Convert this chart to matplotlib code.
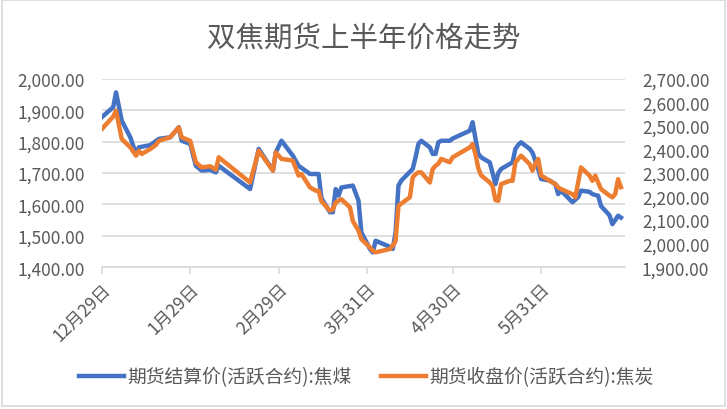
import pandas as pd
import numpy as np
import matplotlib
matplotlib.use('Agg')
import matplotlib.pyplot as plt
from matplotlib.patches import Rectangle

plt.rcParams['font.family'] = ['Noto Sans CJK SC', 'DejaVu Sans']

# 焦煤 期货结算价 (left axis)
coal_dates = ['2023-12-29', '2024-01-02', '2024-01-03', '2024-01-05', '2024-01-08', '2024-01-10',
              '2024-01-11', '2024-01-15', '2024-01-18', '2024-01-22', '2024-01-25', '2024-01-26',
              '2024-01-29', '2024-01-31', '2024-02-02', '2024-02-05', '2024-02-07', '2024-02-08',
              '2024-02-19', '2024-02-22', '2024-02-27', '2024-02-28', '2024-03-01', '2024-03-05',
              '2024-03-07', '2024-03-11', '2024-03-14', '2024-03-15', '2024-03-18', '2024-03-19',
              '2024-03-20', '2024-03-21', '2024-03-22', '2024-03-26', '2024-03-28', '2024-03-29',
              '2024-04-01', '2024-04-02', '2024-04-03', '2024-04-08', '2024-04-09', '2024-04-10',
              '2024-04-11', '2024-04-12', '2024-04-16', '2024-04-17', '2024-04-18', '2024-04-19',
              '2024-04-22', '2024-04-23', '2024-04-24', '2024-04-25', '2024-04-26', '2024-04-29',
              '2024-04-30', '2024-05-06', '2024-05-07', '2024-05-08', '2024-05-09', '2024-05-10',
              '2024-05-13', '2024-05-14', '2024-05-15', '2024-05-16', '2024-05-17', '2024-05-20',
              '2024-05-21', '2024-05-22', '2024-05-23', '2024-05-24', '2024-05-27', '2024-05-28',
              '2024-05-29', '2024-05-30', '2024-05-31', '2024-06-03', '2024-06-05', '2024-06-06',
              '2024-06-07', '2024-06-11', '2024-06-12', '2024-06-13', '2024-06-14', '2024-06-17',
              '2024-06-18', '2024-06-19', '2024-06-20', '2024-06-21', '2024-06-24', '2024-06-25',
              '2024-06-26', '2024-06-27', '2024-06-28']
coal_values = [1878, 1910, 1957, 1867, 1814, 1761,
               1782, 1789, 1809, 1814, 1846, 1803,
               1793, 1723, 1708, 1710, 1702, 1723,
               1649, 1777, 1708, 1766, 1803, 1755,
               1723, 1697, 1697, 1620, 1575, 1575,
               1649, 1628, 1654, 1660, 1612, 1511,
               1458, 1447, 1484, 1465, 1458, 1511,
               1660, 1676, 1713, 1750, 1793, 1803,
               1782, 1761, 1761, 1798, 1803, 1803,
               1810, 1835, 1862, 1810, 1761, 1750,
               1734, 1700, 1665, 1700, 1713, 1729,
               1734, 1777, 1790, 1798, 1777, 1765,
               1739, 1713, 1681, 1676, 1665, 1633,
               1644, 1607, 1615, 1623, 1644, 1640,
               1633, 1630, 1628, 1595, 1565, 1537,
               1550, 1564, 1558]

# 焦炭 期货收盘价 (right axis)
coke_dates = ['2023-12-29', '2024-01-02', '2024-01-03', '2024-01-05', '2024-01-08', '2024-01-10',
              '2024-01-11', '2024-01-12', '2024-01-15', '2024-01-17', '2024-01-18', '2024-01-22',
              '2024-01-25', '2024-01-26', '2024-01-29', '2024-01-31', '2024-02-02', '2024-02-05',
              '2024-02-07', '2024-02-08', '2024-02-19', '2024-02-22', '2024-02-27', '2024-02-28',
              '2024-03-01', '2024-03-04', '2024-03-05', '2024-03-07', '2024-03-08', '2024-03-11',
              '2024-03-13', '2024-03-14', '2024-03-15', '2024-03-18', '2024-03-19', '2024-03-20',
              '2024-03-22', '2024-03-25', '2024-03-26', '2024-03-27', '2024-03-28', '2024-03-29',
              '2024-04-01', '2024-04-02', '2024-04-03', '2024-04-08', '2024-04-09', '2024-04-10',
              '2024-04-11', '2024-04-12', '2024-04-15', '2024-04-16', '2024-04-17', '2024-04-18',
              '2024-04-19', '2024-04-22', '2024-04-23', '2024-04-24', '2024-04-25', '2024-04-26',
              '2024-04-29', '2024-04-30', '2024-05-06', '2024-05-07', '2024-05-08', '2024-05-09',
              '2024-05-10', '2024-05-13', '2024-05-14', '2024-05-15', '2024-05-16', '2024-05-17',
              '2024-05-20', '2024-05-21', '2024-05-22', '2024-05-23', '2024-05-24', '2024-05-27',
              '2024-05-28', '2024-05-29', '2024-05-30', '2024-05-31', '2024-06-03', '2024-06-04',
              '2024-06-05', '2024-06-06', '2024-06-07', '2024-06-11', '2024-06-12', '2024-06-13',
              '2024-06-14', '2024-06-17', '2024-06-18', '2024-06-19', '2024-06-20', '2024-06-21',
              '2024-06-24', '2024-06-25', '2024-06-26', '2024-06-27', '2024-06-28']
coke_values = [2487, 2540, 2565, 2445, 2409, 2374,
               2395, 2381, 2402, 2420, 2437, 2452,
               2494, 2452, 2437, 2346, 2324, 2329,
               2314, 2367, 2260, 2395, 2310, 2388,
               2360, 2355, 2352, 2289, 2296, 2239,
               2225, 2225, 2180, 2140, 2145, 2175,
               2189, 2154, 2097, 2075, 2055, 2019,
               1984, 1970, 1963, 1977, 1991, 2012,
               2161, 2170, 2197, 2282, 2295, 2303,
               2303, 2260, 2317, 2331, 2340, 2360,
               2346, 2367, 2409, 2423, 2380, 2320,
               2290, 2260, 2245, 2185, 2182, 2253,
               2267, 2267, 2346, 2360, 2374, 2338,
               2310, 2340, 2360, 2290, 2267, 2260,
               2253, 2239, 2232, 2210, 2197, 2260,
               2324, 2289, 2267, 2289, 2260, 2232,
               2204, 2197, 2211, 2274, 2240]

tick_dates = ['2023-12-29', '2024-01-29', '2024-02-29', '2024-03-31', '2024-04-30', '2024-05-31']
tick_labels = ['12月29日', '1月29日', '2月29日', '3月31日', '4月30日', '5月31日']

coal = pd.Series(coal_values, index=pd.to_datetime(coal_dates))
coke = pd.Series(coke_values, index=pd.to_datetime(coke_dates))

BLUE = '#4472C4'
ORANGE = '#ED7D31'
TEXT = '#595959'
GRID = '#D9D9D9'

fig = plt.figure(figsize=(7.27, 4.10), dpi=100)
fig.patches.append(Rectangle((0.003, 0.007), 0.994, 0.99, transform=fig.transFigure,
                             fill=False, edgecolor=GRID, linewidth=1.2))
ax = fig.add_axes([0.140, 0.346, 0.720, 0.459])
ax2 = ax.twinx()

l1, = ax.plot(coal.index, coal.values, color=BLUE, linewidth=3.2, solid_joinstyle='round',
              label='期货结算价(活跃合约):焦煤', zorder=3)
l2, = ax2.plot(coke.index, coke.values, color=ORANGE, linewidth=3.2, solid_joinstyle='round',
               label='期货收盘价(活跃合约):焦炭', zorder=3)

ax.set_ylim(1400, 2000)
ax.set_yticks(np.arange(1400, 2001, 100))
ax2.set_ylim(1900, 2700)
ax2.set_yticks(np.arange(1900, 2701, 100))
for a in (ax, ax2):
    a.yaxis.set_major_formatter(matplotlib.ticker.FuncFormatter(lambda v, p: f'{v:,.2f}'))
    a.tick_params(axis='y', length=0, labelsize=12.5, labelcolor=TEXT, pad=12)
    for s in a.spines.values():
        s.set_visible(False)
ax.spines['bottom'].set_visible(True)
ax.spines['bottom'].set_color(GRID)
ax.spines['bottom'].set_linewidth(1.2)

ax.grid(axis='y', color=GRID, linewidth=1.2)
ax.set_axisbelow(True)

ax.set_xlim(pd.Timestamp('2023-12-29'), pd.Timestamp('2024-06-29 12:00'))
ax.set_xticks(pd.to_datetime(tick_dates))
ax.set_xticklabels(tick_labels, rotation=45, ha='right', rotation_mode='anchor')
ax.tick_params(axis='x', length=5, color=GRID, width=1.2, labelsize=12.5, labelcolor=TEXT, pad=4)

fig.text(0.5, 0.905, '双焦期货上半年价格走势', ha='center', va='center', fontsize=20.5, color=TEXT)

fig.legend(handles=[l1, l2], loc='center left', bbox_to_anchor=(0.109, 0.078), ncol=2, frameon=False,
           fontsize=13.5, labelcolor=TEXT, handlelength=2.4, handletextpad=0.15, columnspacing=1.6,
           borderpad=0, borderaxespad=0)

fig.savefig('out.png', dpi=100)
